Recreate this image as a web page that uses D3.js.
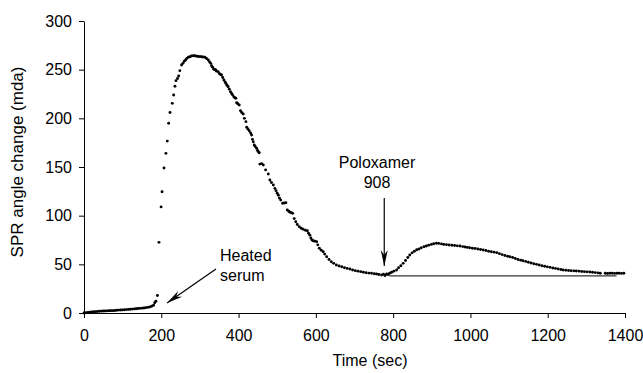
<!DOCTYPE html>
<html>
<head>
<meta charset="utf-8">
<script src="https://cdn.jsdelivr.net/npm/d3@7"></script>
<style>
  html, body { margin: 0; padding: 0; background: #fff; }
  svg { display: block; }
  text { font-family: Arial, "Liberation Sans", sans-serif; fill: #000; }
</style>
</head>
<body>
<svg id="chart" width="643" height="373"></svg>
<script>
// ---- Data: [time (sec), SPR angle change (mda)] ----
const baselinePhase = [
  [0,0],[5,0.3],[10,0.6],[15,0.9],[20,1.1],[25,1.3],[30,1.4],[35,1.6],[40,1.8],[45,1.9],
  [50,2.0],[55,2.1],[60,2.2],[65,2.3],[70,2.4],[75,2.4],[80,2.6],[85,2.8],[90,3.0],[95,3.1],
  [100,3.2],[105,3.3],[110,3.5],[115,3.7],[120,3.8],[125,4.0],[130,4.2],[135,4.4],[140,4.6],
  [145,4.8],[150,5.0],[155,5.2],[160,5.5],[165,5.8],[170,6.2],[175,7.0],[180,8.0],[183,10.6]
];
const heatedSerumPhase = [
  [186,12],[190,18],[194,72.6],[199.5,109],[202,124.6],[207,149],[212,164],[215.5,176.6],
  [219,195],[222.5,206],[228.5,215.4],[232,224],[235.4,233],[238,238.7],[242,241],[245,243.5],
  [248,249],[252.5,254.8],[256,256.5],[259.5,258.6],[263,260],[266,261.5],[270,262.7],[274,263.3],
  [278,264],[282,264.2],[285,264.4],[289,264],[293,263.8],[296,263.6],[300,263.4],[304,263.3],
  [308,263],[313,262.7],[317,261.5],[321.6,260],[325,258],[328,256.5],[330,254],[333,252.5],
  [336,250.5],[339,250],[341,249.7],[343,248.5],[347,248],[350,246],[353,245],[356,244.5],
  [359,242],[362,239.4],[365,237.5],[367,236],[370,234],[373,232.5],[376,230],[379,227.4],
  [382,225.5],[384.6,224],[388,222],[391,221],[393,220.6],[395,216],[398,215],[401.7,213.7],
  [405,207.8],[408,206],[412,204.5],[415,200],[419,196.6],[421,190.8],[424,189],[427.6,187.3],
  [431,185],[433.7,182.9],[436,178.4],[438,176],[440.6,172.6],[443,171],[446.7,169.2],[449,167],
  [451,165.7],[453.5,164.7],[455,153],[459.6,153.5],[464,152],[470,147],[477,142.8],[481,136.6],
  [485,134],[490,131.5],[494,128],[497,125.7],[500,123],[503,121],[506,118],[509,116],
  [514,112.7],[518,113],[522.5,113.3],[526,105.8],[530,104.5],[533,103.5],[537,103],[540,102.4],
  [544,97],[548,93.8],[552,91],[557,88.7],[562,87],[567,86],[573,85],[578,84.5],[581,82],
  [584.6,80],[587,77],[590,75],[593,74.3],[597,73.8],[602,73.3],[605,70],[609,66.5],[614,64.5],
  [619,63],[623,60.5],[628,57.8],[634,55],[640,52.7],[646,51],[653,49.3],[660,48.3],[667,47.5],
  [674,46.5],[681,45.8],[688,45.2],[695,44.2],[702,43.5],[709,43],[716,42.5],[723,41.8],
  [730,41.4],[737,41],[744,40.8],[751,40.3],[757,40],[763,39.5],[770,39],[775,39.8],[779,38.5],
  [783,40],[787,39.5]
];
const poloxamerPhase = [
  [791,40.8],[796,41.8],[802,43],[809,44.2],[814,46.5],[820,48.5],[826,51],[832,54],[838,57],
  [843,59.6],[849,61.8],[855,63.5],[861,65],[867,65.8],[873,67],[880,68],[886,68.8],[892,69.7],
  [899,70.5],[905,71.2],[912,71.6],[918,71.5],[925,71],[931,70.5],[938,70.2],[945,69.8],
  [952,69.6],[959,69.3],[966,69],[973,68.8],[980,68.2],[986,67.8],[992,67.4],[998,67],
  [1005,66.6],[1012,66.2],[1019,65.7],[1026,65.2],[1033,64.7],[1040,64.2],[1047,63.5],[1054,63],
  [1061,62.5],[1068,62],[1075,61],[1082,60],[1089,59],[1096,58.3],[1102,57.8],[1109,57],
  [1116,56],[1123,55],[1130,54.3],[1136,53.7],[1143,53],[1150,52.2],[1157,51.3],[1164,50.6],
  [1171,50],[1178,49.3],[1185,48.6],[1192,48],[1199,47.4],[1206,46.9],[1213,46.3],[1220,45.8],
  [1227,45.2],[1234,44.7],[1240,44.2],[1247,43.9],[1254,43.6],[1261,43.4],[1268,43.3],[1274,43.2],
  [1281,43],[1288,42.7],[1295,42.5],[1302,42.3],[1309,42.1],[1316,41.8],[1323,41.5],[1330,41.2],
  [1336,40.8],[1349,40.8],[1355,40.6],[1361,40.8],[1367,40.8],[1373,40.7],[1379,40.8],
  [1385,40.8],[1391,40.7],[1397,40.8]
];
const referenceLevel = { from: 790, to: 1378, value: 38.2 };
const xTicks = [0, 200, 400, 600, 800, 1000, 1200, 1400];
const yTicks = [0, 50, 100, 150, 200, 250, 300];
const xTitle = "Time (sec)";
const yTitle = "SPR angle change (mda)";
const annotations = [
  { lines: ["Heated", "serum"] },
  { lines: ["Poloxamer", "908"] }
];

// ---- Drawing ----
const svg = d3.select("#chart");
const x = d3.scaleLinear().domain([0, 1400]).range([84, 625]);
const y = d3.scaleLinear().domain([0, 300]).range([313, 21]);

// arrow marker
const defs = svg.append("defs");
defs.append("marker")
  .attr("id", "arrow")
  .attr("viewBox", "0 -5 16 10")
  .attr("refX", 16).attr("refY", 0)
  .attr("markerWidth", 16).attr("markerHeight", 10)
  .attr("markerUnits", "userSpaceOnUse")
  .attr("orient", "auto")
  .append("path")
  .attr("d", "M0,-3.5 L16,0 L0,3.5 L5,0 Z")
  .attr("fill", "#000");

const fs = "16px";

// x axis
const xAxis = svg.append("g")
  .attr("transform", `translate(0,${y(0)})`)
  .call(d3.axisBottom(x).tickValues(xTicks).tickFormat(d3.format("d"))
    .tickSize(5).tickSizeOuter(0).tickPadding(12));
// y axis
const yAxis = svg.append("g")
  .attr("transform", `translate(${x(0)},0)`)
  .call(d3.axisLeft(y).tickValues(yTicks).tickFormat(d3.format("d"))
    .tickSize(5).tickSizeOuter(0).tickPadding(7));
[xAxis, yAxis].forEach(g => {
  g.selectAll("path.domain").attr("stroke", "#000").attr("stroke-width", 1);
  g.selectAll(".tick line").attr("stroke", "#000");
  g.selectAll(".tick text").style("font-size", fs).attr("fill", "#000")
    .style("font-family", "Arial, 'Liberation Sans', sans-serif");
});

// axis titles
svg.append("text")
  .attr("x", 370).attr("y", 366)
  .attr("text-anchor", "middle").style("font-size", fs).text(xTitle);
svg.append("text")
  .attr("transform", `translate(23,162) rotate(-90)`)
  .attr("text-anchor", "middle").style("font-size", "17px").text(yTitle);

// reference (baseline) line
svg.append("line")
  .attr("x1", x(referenceLevel.from)).attr("x2", x(referenceLevel.to))
  .attr("y1", y(referenceLevel.value)).attr("y2", y(referenceLevel.value))
  .attr("stroke", "#333").attr("stroke-width", 1.2);

// data points
const allPoints = baselinePhase.concat(heatedSerumPhase, poloxamerPhase);
svg.append("g").selectAll("circle")
  .data(allPoints).join("circle")
  .attr("cx", d => x(d[0])).attr("cy", d => y(d[1]))
  .attr("r", 1.45).attr("fill", "#000");

// annotations
const heated = svg.append("text").style("font-size", fs);
annotations[0].lines.forEach((t, i) => {
  heated.append("tspan").attr("x", 220).attr("y", 261 + i * 20).text(t);
});
svg.append("line")
  .attr("x1", 216).attr("y1", 269).attr("x2", 167).attr("y2", 303)
  .attr("stroke", "#000").attr("stroke-width", 1.2).attr("marker-end", "url(#arrow)");

const polo = svg.append("text").style("font-size", fs).attr("text-anchor", "middle");
annotations[1].lines.forEach((t, i) => {
  polo.append("tspan").attr("x", 377).attr("y", 168 + i * 20).text(t);
});
svg.append("line")
  .attr("x1", x(777)).attr("y1", 198).attr("x2", x(777)).attr("y2", 266)
  .attr("stroke", "#000").attr("stroke-width", 1.2).attr("marker-end", "url(#arrow)");
</script>
</body>
</html>
